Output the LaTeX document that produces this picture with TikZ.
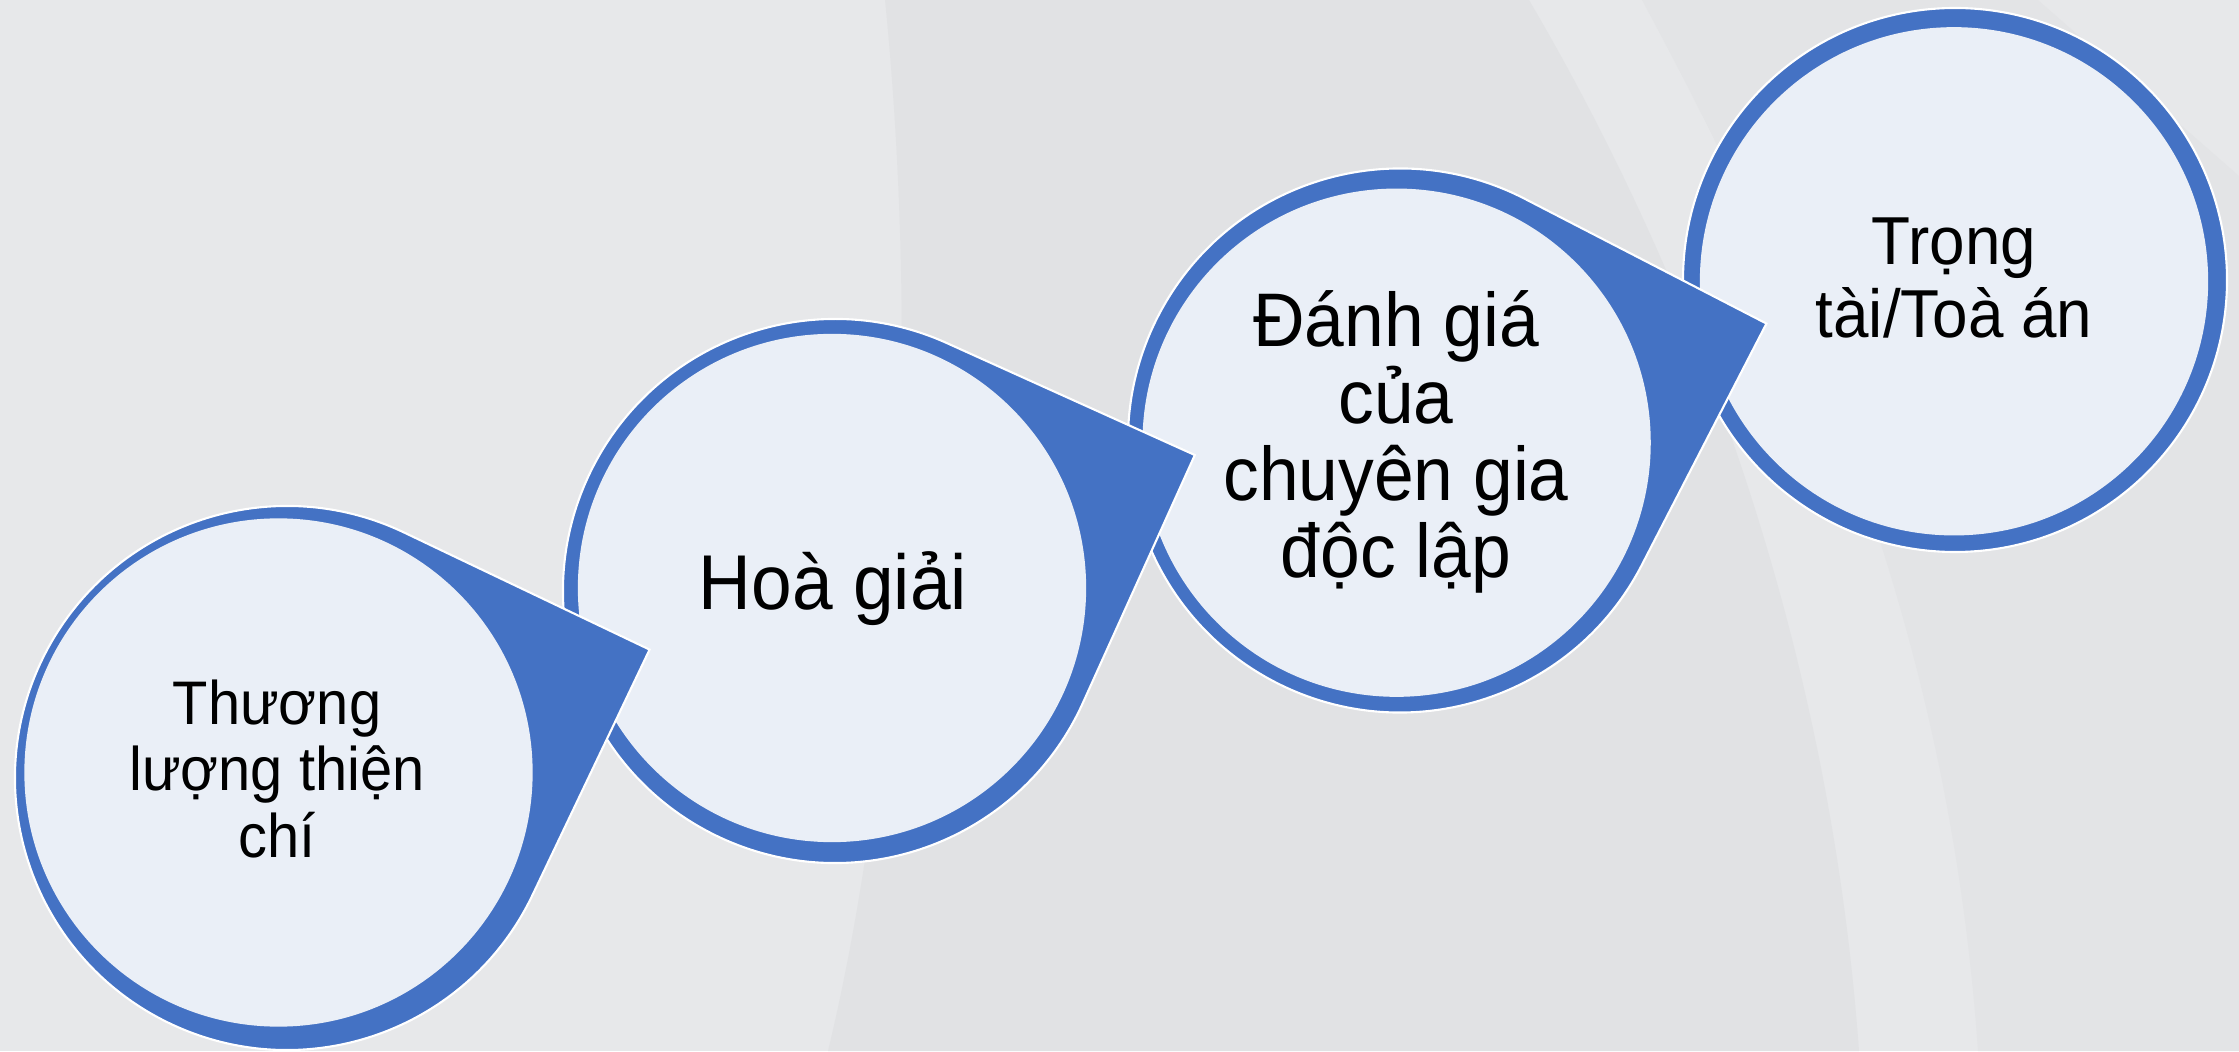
\documentclass[tikz,border=0pt]{standalone}
\usepackage{fontspec}
\setmainfont[FakeStretch=0.94]{Liberation Sans}
\usetikzlibrary{positioning}

\definecolor{accentblue}{HTML}{4472C4}
\definecolor{stepfill}{HTML}{EAEFF7}
\definecolor{bglight}{HTML}{E7E8EA}
\definecolor{bgdark}{HTML}{E1E2E4}
\definecolor{bgmid}{HTML}{E3E4E6}

% circle with one pointed corner: centre, direction of the corner
\newcommand{\teardrop}[2]{%
  \path[drop] (#1) ++(#2+45:272) arc[start angle=#2+45, end angle=#2+315, radius=272]
    -- ++(#2+45:272) -- cycle;}

\begin{document}
\begin{tikzpicture}
[x=0.01cm, y=0.01cm,
 drop/.style={fill=accentblue, draw=white, line width=0.6pt, line join=miter},
 stepcircle/.style={circle, fill=stepfill, inner sep=0pt, minimum size=5.08cm},
 steptext/.style={align=center, inner sep=0pt, anchor=base}]

\fill[bglight] (0,0) rectangle (2239,1051);
\useasboundingbox (0,0) rectangle (2239,1051);
\fill[bgdark] (885,1051) .. controls (920,700) and (900,300) .. (828,0)
  -- (1859,0) .. controls (1830,400) and (1700,760) .. (1529,1051) -- cycle;
\fill[bgmid] (1642,1051) .. controls (1820,720) and (1950,400) .. (1978,0)
  -- (2239,0) -- (2239,875) -- (2038,1051) -- cycle;

% step 4
\coordinate (c4) at (1955,771);
\path[drop] (c4) circle[radius=272];
\node[stepcircle] (trongtai) at (1954,769.7) {};
\node[steptext, font=\fontsize{19.3pt}{20.8pt}\selectfont] (trongtaitext) at (1954,713.7) {Trọng\\tài/Toà án};

% step 3
\coordinate (c3) at (1400,610.5);
\teardrop{c3}{17.7}
\node[stepcircle] (danhgia) at (1396.6,608.3) {};
\node[steptext, font=\fontsize{21.6pt}{21.9pt}\selectfont] (danhgiatext) at (1396,473) {Đánh giá\\của\\chuyên gia\\độc lập};

% step 2
\coordinate (c2) at (835,460);
\teardrop{c2}{20.7}
\node[stepcircle] (hoagiai) at (832,463) {};
\node[steptext, font=\fontsize{22.1pt}{24pt}\selectfont] (hoagiaitext) at (833,441) {Hoà giải};

% step 1
\coordinate (c1) at (287,273);
\teardrop{c1}{19.5}
\node[stepcircle] (thuongluong) at (278.5,278.5) {};
\node[steptext, font=\fontsize{17.5pt}{18.8pt}\selectfont] (thuongluongtext) at (277,194) {Thương\\lượng thiện\\chí};

\end{tikzpicture}
\end{document}
